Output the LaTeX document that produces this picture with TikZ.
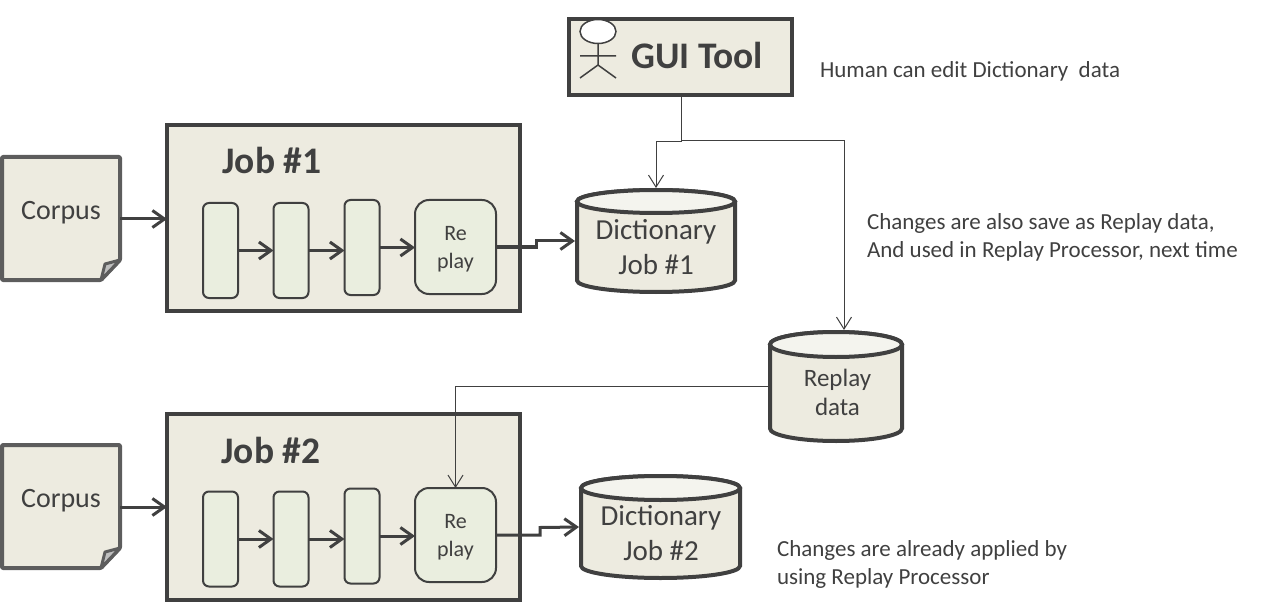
\documentclass[tikz,border=0pt]{standalone}
\usepackage{fontspec}
\setmainfont{Carlito}
\usetikzlibrary{arrows.meta,positioning,calc}
\definecolor{ink}{HTML}{404040}
\definecolor{boxfill}{HTML}{EDEBE0}
\definecolor{stepfill}{HTML}{EAEEDF}
\definecolor{endfill}{HTML}{F4F4EE}
\begin{document}
\begin{tikzpicture}[x=1pt, y=-1pt, >={Straight Barb[length=12pt,width=17pt]}]
 % We define the styles for the blocks and the arrows
 \tikzset{
every node/.style = {outer sep=0pt, text=ink},
job/.style = {draw=ink, fill=boxfill, line width=4pt, minimum width=353pt, minimum height=186pt},
jobtitle/.style = {font=\fontsize{37.5}{42}\selectfont\bfseries},
stepbox/.style = {draw=ink, fill=stepfill, line width=2pt, rounded corners=6pt, minimum width=35pt, minimum height=95pt},
replaybox/.style = {draw=ink, fill=stepfill, line width=2pt, rounded corners=14pt, minimum width=81pt, minimum height=94pt},
replaytext/.style = {align=center, font=\fontsize{22}{28}\selectfont},
dicttext/.style = {align=center, font=\fontsize{29}{35}\selectfont},
note/.style = {anchor=west, align=left, inner sep=0pt, font=\fontsize{23}{28}\selectfont},
line/.style = {draw=ink, ->, line width=3pt},
thin/.style = {draw=ink, ->, line width=1pt, >={Straight Barb[length=12pt,width=15pt]}},
}
 \useasboundingbox (0,0) rectangle (1277,604);

 % GUI tool block with its actor
 \node [draw=ink, fill=boxfill, line width=4pt, minimum width=223pt, minimum height=76pt] (gui) at (680.5,57) {};
 \node [font=\fontsize{37.5}{42}\selectfont\bfseries] (guilabel) at (697,55) {GUI Tool};
 \draw [ink, line width=1.5pt, fill=white] (598,31.5) ellipse [x radius=18, y radius=12];
 \draw [ink, line width=1.5pt] (598,44) -- (598,65) (580,56) -- (616,56) (580,78) -- (598,65) -- (616,78);

 % Corpus documents
 \foreach \name/\top in {corpus1/157, corpus2/445}{
 \begin{scope}[shift={(2,\top)}]
 \draw [draw=ink!85!white, fill=boxfill, line width=4pt, rounded corners=1pt, line join=round] (0,0) -- (118,0) -- (118,103) -- (99,123) -- (0,123) -- cycle;
 \draw [draw=ink!85!white, fill=gray!50, line width=3pt, line join=round] (99,123) -- (103,107) -- (118,103) -- cycle;
 \node [font=\fontsize{28}{34}\selectfont] (\name) at (59,56) {Corpus};
 \coordinate (\name out) at (118,62);
 \end{scope}
 }

 % Job blocks
 \node [job] (job1) at (343.5,218) {};
 \node [jobtitle] (job1label) at (272,160) {Job \#1};
 \node [job] (job2) at (343.5,506.5) {};
 \node [jobtitle] (job2label) at (271,450) {Job \#2};

 % Steps of job 1
 \node [stepbox] (a1) at (220.5,250.5) {};
 \node [stepbox, right of=a1, node distance=70.5pt] (a2) {};
 \node [stepbox] (a3) at (362,247.5) {};
 \node [replaybox] (a4) at (455.5,247) {};
 \node [replaytext] (a4label) at (455.5,246) {\strut Re\\play};

 % Steps of job 2
 \node [stepbox] (b1) at (220.5,539) {};
 \node [stepbox, right of=b1, node distance=70.5pt] (b2) {};
 \node [stepbox] (b3) at (362,536) {};
 \node [replaybox] (b4) at (455.5,535) {};
 \node [replaytext] (b4label) at (455.5,534) {\strut Re\\play};

 % Stores, drawn as cylinders round an empty node
 \foreach \name/\cx/\cy/\rx/\hh/\ry in {dict1/656/241/79/51/11.5, dict2/660.5/527/79.5/51/12, replay/836/386.5/66/54.5/12.5}{
 \begin{scope}[shift={(\cx,\cy)}]
 \draw [draw=ink, fill=boxfill, line width=4pt] (-\rx,\ry-\hh) -- (-\rx,\hh-\ry) arc [start angle=180, end angle=360, x radius=\rx pt, y radius=\ry pt] -- (\rx,\ry-\hh) arc [start angle=0, end angle=180, x radius=\rx pt, y radius=\ry pt] -- cycle;
 \draw [draw=ink, fill=endfill, line width=4pt] (0,\ry-\hh) ellipse [x radius=\rx pt, y radius=\ry pt];
 \node [minimum width=2*\rx pt+4pt, minimum height=2*\hh pt+4pt, inner sep=0pt] (\name) at (0,0) {};
 \end{scope}
 }
 \node [dicttext] (dict1label) at (656,247) {Dictionary\\Job \#1};
 \node [dicttext] (dict2label) at (661,533) {Dictionary\\Job \#2};
 \node [align=center, font=\fontsize{25}{29}\selectfont] (replaylabel) at (837.5,392.5) {Replay\\data};

 % Arrows between the blocks
 \draw [line] (corpus1out) -- (job1.west |- corpus1out);
 \draw [line] (corpus2out) -- (job2.west |- corpus2out);
 \foreach \u/\v in {a1/a2, b1/b2}{
 \draw [line] (\u.east) -- (\v.west);
 }
 \draw [line] (a2.east) -- (a2.east -| a3.west);
 \draw [line] (b2.east) -- (b2.east -| b3.west);
 \draw [line] (a3.east) -- (a3.east -| a4.west);
 \draw [line] (b3.east) -- (b3.east -| b4.west);
 \draw [line] (a4.east) -- ++(40,0) -- ++(0,-6) -- (dict1.west);
 \draw [line] (b4.east) -- ++(44,0) -- ++(0,-7.5) -- (dict2.west);

 % Thin connectors for the edits
 \coordinate (fork) at (681.5,141);
 \draw [thin] (gui.south -| fork) -- (681.5,142) -- (656,142) -- (dict1.north);
 \draw [thin] (fork) -- (844,141) -- (replay.north -| 844,141);
 \draw [thin] (replay.west) -| (b4.north);

 % Notes
 \node [note] (note1) at (820,71) {Human can edit Dictionary\ \ data};
 \node [note] (note2) at (867,237) {Changes are also save as Replay data,\\And used in Replay Processor, next time};
 \node [note] (note3) at (777,564) {Changes are already applied by\\using Replay Processor};
\end{tikzpicture}
\end{document}
